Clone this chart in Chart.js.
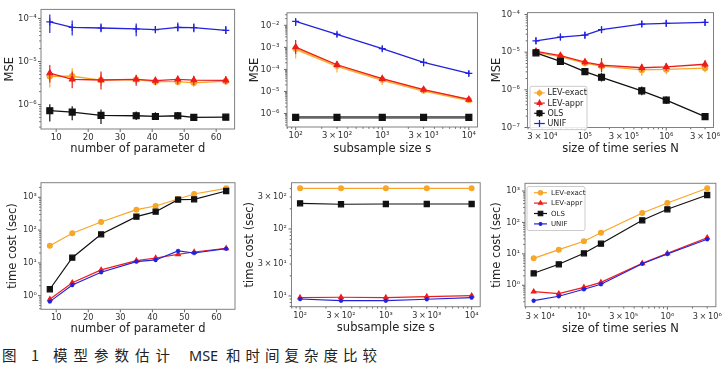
<!DOCTYPE html>
<html><head><meta charset="utf-8">
<script src="https://cdn.jsdelivr.net/npm/chart.js@4/dist/chart.umd.min.js"></script>
<style>
html,body{margin:0;padding:0;background:#fff;width:727px;height:379px;overflow:hidden;position:relative}
canvas{position:absolute}
.cap{position:absolute;top:348px;font-family:"Noto Sans CJK SC";font-size:14.5px;line-height:14px;color:#222;white-space:nowrap}
</style></head><body>
<canvas id="c1" width="240" height="160" style="left:0;top:0;width:240px;height:160px"></canvas>
<canvas id="c2" width="245" height="160" style="left:240px;top:0;width:245px;height:160px"></canvas>
<canvas id="c3" width="242" height="160" style="left:485px;top:0;width:242px;height:160px"></canvas>
<canvas id="c4" width="240" height="170" style="left:0;top:170px;width:240px;height:170px"></canvas>
<canvas id="c5" width="245" height="170" style="left:240px;top:170px;width:245px;height:170px"></canvas>
<canvas id="c6" width="242" height="170" style="left:485px;top:170px;width:242px;height:170px"></canvas>
<div class="cap" style="left:2px">图</div>
<div class="cap" style="left:31px">1</div>
<div class="cap" style="left:53px;letter-spacing:6px">模型参数估计</div>
<div class="cap" style="left:189px;font-family:'Noto Sans'">MSE</div>
<div class="cap" style="left:226px;letter-spacing:5px">和时间复杂度比较</div>
<script>
// ---------------- categories ----------------
const dVals = [8, 15, 24, 35, 41, 48, 53, 63];
const sVals = [100, 300, 1000, 3000, 10000];
const nVals = [25000, 50000, 100000, 160000, 500000, 1000000, 3000000];
const seriesNames = ['LEV-exact', 'LEV-appr', 'OLS', 'UNIF'];

// ---------------- MSE vs d ----------------
const mseD_exact   = [4.55e-6, 4.55e-6, 3.7e-6, 3.8e-6, 3.4e-6, 3.4e-6, 3.2e-6, 3.5e-6];
const mseD_exactLo = [2.5e-6, 3.2e-6, 2.7e-6, 3.0e-6, 2.8e-6, 2.8e-6, 2.6e-6, 2.9e-6];
const mseD_exactHi = [6.4e-6, 7.0e-6, 5.2e-6, 4.8e-6, 4.2e-6, 4.2e-6, 4.0e-6, 4.3e-6];
const mseD_appr    = [5.4e-6, 3.84e-6, 3.72e-6, 3.84e-6, 3.6e-6, 3.84e-6, 3.7e-6, 3.65e-6];
const mseD_apprLo  = [3.24e-6, 2.39e-6, 2.23e-6, 2.74e-6, 2.83e-6, 2.97e-6, 2.83e-6, 2.97e-6];
const mseD_apprHi  = [8.3e-6, 5.9e-6, 5.9e-6, 4.96e-6, 4.4e-6, 4.7e-6, 4.7e-6, 4.6e-6];
const mseD_ols     = [7.2e-7, 6.7e-7, 5.6e-7, 5.5e-7, 5.3e-7, 5.5e-7, 5.06e-7, 5.1e-7];
const mseD_olsLo   = [4.04e-7, 4.35e-7, 3.54e-7, 4.4e-7, 4.4e-7, 4.48e-7, 4.4e-7, 4.4e-7];
const mseD_olsHi   = [1.02e-6, 9.2e-7, 7.7e-7, 6.9e-7, 6.6e-7, 6.7e-7, 5.8e-7, 5.9e-7];
const mseD_unif    = [8.3e-5, 6.2e-5, 6.0e-5, 5.7e-5, 5.5e-5, 6.2e-5, 6.1e-5, 5.3e-5];
const mseD_unifLo  = [4.57e-5, 4.04e-5, 4.8e-5, 3.84e-5, 4.64e-5, 4.97e-5, 4.8e-5, 4.33e-5];
const mseD_unifHi  = [1.23e-4, 9.0e-5, 7.6e-5, 7.6e-5, 6.7e-5, 8.0e-5, 7.6e-5, 6.7e-5];

// ---------------- MSE vs s ----------------
const mseS_exact   = [8.7e-4, 1.48e-4, 3.4e-5, 1.1e-5, 4.1e-6];
const mseS_exactLo = [3.11e-4, 7.26e-5, 1.98e-5, 8.28e-6, 3.14e-6];
const mseS_exactHi = [1.33e-3, 2.11e-4, 4.48e-5, 1.44e-5, 5.46e-6];
const mseS_appr    = [1.03e-3, 1.63e-4, 3.8e-5, 1.22e-5, 4.36e-6];
const mseS_apprLo  = [5.05e-4, 1.18e-4, 2.75e-5, 8.85e-6, 3.36e-6];
const mseS_apprHi  = [2.16e-3, 2.39e-4, 5.2e-5, 1.69e-5, 5.83e-6];
const mseS_ols     = [6.65e-7, 6.65e-7, 6.65e-7, 6.65e-7, 6.65e-7];
const mseS_olsLo   = [5.5e-7, 5.5e-7, 5.5e-7, 5.5e-7, 5.5e-7];
const mseS_olsHi   = [8.0e-7, 8.0e-7, 8.0e-7, 8.0e-7, 8.0e-7];
const mseS_unif    = [1.5e-2, 3.9e-3, 8.7e-4, 2.1e-4, 6.6e-5];
const mseS_unifLo  = [9.25e-3, 2.98e-3, 6.75e-4, 1.38e-4, 5.2e-5];
const mseS_unifHi  = [1.93e-2, 4.83e-3, 1.13e-3, 3.11e-4, 8.5e-5];

// ---------------- MSE vs N ----------------
const mseN_exact   = [9.9e-6, 7.6e-6, 5.15e-6, 4.26e-6, 3.37e-6, 3.49e-6, 3.79e-6];
const mseN_exactLo = [8.6e-6, 6.4e-6, 4.2e-6, 3.19e-6, 2.38e-6, 2.61e-6, 2.92e-6];
const mseN_exactHi = [1.15e-5, 9.0e-6, 6.3e-6, 5.7e-6, 4.78e-6, 4.67e-6, 4.92e-6];
const mseN_appr    = [1.05e-5, 8.07e-6, 5.46e-6, 4.5e-6, 3.86e-6, 4.08e-6, 4.78e-6];
const mseN_apprLo  = [9.1e-6, 6.8e-6, 4.46e-6, 2.91e-6, 3.06e-6, 3.23e-6, 3.79e-6];
const mseN_apprHi  = [1.21e-5, 9.6e-6, 6.7e-6, 6.96e-6, 4.87e-6, 5.15e-6, 6.03e-6];
const mseN_ols     = [9.6e-6, 5.69e-6, 3.05e-6, 2.15e-6, 9.4e-7, 5.33e-7, 1.95e-7];
const mseN_olsLo   = [8.1e-6, 4.78e-6, 2.56e-6, 1.66e-6, 7.2e-7, 4.2e-7, 1.79e-7];
const mseN_olsHi   = [1.14e-5, 6.77e-6, 3.63e-6, 2.79e-6, 1.22e-6, 6.7e-7, 2.13e-7];
const mseN_unif    = [2.0e-5, 2.52e-5, 2.83e-5, 3.95e-5, 5.58e-5, 5.82e-5, 6.17e-5];
const mseN_unifLo  = [1.63e-5, 2.06e-5, 2.31e-5, 3.22e-5, 4.55e-5, 4.75e-5, 5.04e-5];
const mseN_unifHi  = [2.45e-5, 3.09e-5, 3.47e-5, 4.84e-5, 6.84e-5, 7.13e-5, 7.56e-5];

// ---------------- time cost ----------------
const timeD_exact = [33.4, 80, 177, 419, 543, 888, 1262, 1880];
const timeD_appr  = [0.78, 2.49, 6.1, 11.7, 14.1, 18.3, 21.5, 27.9];
const timeD_ols   = [1.57, 14.4, 74.5, 257, 364, 845, 869, 1556];
const timeD_unif  = [0.66, 2.12, 5.2, 10.9, 12.3, 23.1, 20.0, 27.1];

const timeS_exact = [405, 404, 405, 405, 405];
const timeS_appr  = [9.44, 9.57, 9.44, 9.77, 10.1];
const timeS_ols   = [242, 234, 236, 236, 236];
const timeS_unif  = [9.02, 8.51, 8.51, 8.93, 9.44];

const timeN_exact = [7.2, 13.6, 25.1, 47.2, 200, 416, 1219];
const timeN_appr  = [0.625, 0.54, 0.86, 1.24, 5.01, 10.4, 32.7];
const timeN_ols   = [2.41, 4.66, 10.4, 21.1, 117, 262, 747];
const timeN_unif  = [0.324, 0.447, 0.746, 1.08, 4.87, 9.9, 29.1];

// ---------------- tick labels ----------------
const dTickVals = [10, 20, 30, 40, 50, 60];
const dTickLabels = ['10', '20', '30', '40', '50', '60'];
const sTickVals = [100, 300, 1000, 3000, 10000];
const sTickLabels = ['10²', '3\u2009×\u200910²', '10³', '3\u2009×\u200910³', '10⁴'];
const nTickVals = [3e4, 1e5, 3e5, 1e6, 3e6];
const nTickLabels = ['3\u2009×\u200910⁴', '10⁵', '3\u2009×\u200910⁵', '10⁶', '3\u2009×\u200910⁶'];
const mseDTickVals = [1e-6, 1e-5, 1e-4];
const mseDTickLabels = ['10⁻⁶', '10⁻⁵', '10⁻⁴'];
const mseSTickVals = [1e-6, 1e-5, 1e-4, 1e-3, 1e-2];
const mseSTickLabels = ['10⁻⁶', '10⁻⁵', '10⁻⁴', '10⁻³', '10⁻²'];
const mseNTickVals = [1e-7, 1e-6, 1e-5, 1e-4];
const mseNTickLabels = ['10⁻⁷', '10⁻⁶', '10⁻⁵', '10⁻⁴'];
const timeTickVals = [1, 10, 100, 1000];
const timeTickLabels = ['10⁰', '10¹', '10²', '10³'];
const timeSTickVals = [10, 30, 100, 300];
const timeSTickLabels = ['10¹', '3\u2009×\u200910¹', '10²', '3\u2009×\u200910²'];

// ---------------- styling / helpers ----------------
const C_OR = '#f7a627', C_RED = '#ee1c1c', C_BLK = '#111111', C_BLU = '#2222dd';
const FONT = 'DejaVu Sans';

function logTicks(min, max) {
  const out = [];
  for (let e = Math.floor(Math.log10(min)); e <= Math.ceil(Math.log10(max)); e++) {
    for (let m = 1; m <= 9; m++) {
      const v = m * Math.pow(10, e);
      if (v >= min && v <= max) out.push({value: v, major: m === 1});
    }
  }
  return out;
}
function labeler(vals, labels) {
  return v => { for (let i = 0; i < vals.length; i++) if (Math.abs(v / vals[i] - 1) < 1e-6) return labels[i]; return ''; };
}
function axis(o) {
  const isLog = o.type === 'logarithmic';
  return {
    type: o.type, min: o.min, max: o.max, bounds: 'data',
    grid: {display: false, drawTicks: false}, border: {display: false},
    ticks: {autoSkip: false, maxRotation: 0, minRotation: 0, padding: o.tickPad,
      font: {family: FONT, size: o.tickSize}, color: '#333', callback: labeler(o.vals, o.labels)},
    title: {display: true, text: o.title, color: '#222', font: {family: FONT, size: 11.5},
      padding: o.isY ? {top: o.titlePad, bottom: 0} : {top: 0, bottom: o.titlePad}},
    afterBuildTicks: s => { s.ticks = isLog ? logTicks(o.min, o.max) : o.vals.map(v => ({value: v})); },
    afterFit: s => { if (o.isY) s.width = o.size; else s.height = o.size; }
  };
}
function ser(label, xs, ys, color, style, r, extra) {
  return Object.assign({
    label, data: xs.map((x, i) => ({x, y: ys[i]})),
    borderColor: color, backgroundColor: color, pointBackgroundColor: color, pointBorderColor: color,
    pointStyle: style, pointRadius: r, pointHoverRadius: r, pointBorderWidth: 1.2,
    borderWidth: 1.3, showLine: true, tension: 0, fill: false
  }, extra || {});
}

const framePlugin = {
  id: 'frameTicks',
  afterDraw(chart) {
    const {ctx, chartArea: a} = chart;
    ctx.save();
    ctx.strokeStyle = '#555'; ctx.lineWidth = 0.9;
    ['x', 'y'].forEach(id => {
      const s = chart.scales[id];
      s.ticks.forEach(t => {
        const p = s.getPixelForValue(t.value);
        const len = (s.type === 'logarithmic' && !t.major) ? 1.8 : 3;
        ctx.beginPath();
        if (id === 'x') { ctx.moveTo(p, a.bottom); ctx.lineTo(p, a.bottom + len); }
        else { ctx.moveTo(a.left, p); ctx.lineTo(a.left - len, p); }
        ctx.stroke();
      });
    });
    ctx.strokeStyle = '#808080'; ctx.lineWidth = 1;
    ctx.strokeRect(a.left, a.top, a.right - a.left, a.bottom - a.top);
    ctx.restore();
  }
};
const errPlugin = {
  id: 'errBars',
  beforeDatasetDraw(chart, args) {
    const ds = chart.data.datasets[args.index];
    if (!ds.errLo) return;
    const ys = chart.scales.y, ctx = chart.ctx;
    ctx.save();
    ctx.strokeStyle = ds.errColor || ds.borderColor; ctx.lineWidth = ds.errWidth || 1.2;
    args.meta.data.forEach((pt, i) => {
      ctx.beginPath();
      ctx.moveTo(pt.x, ys.getPixelForValue(ds.errLo[i]));
      ctx.lineTo(pt.x, ys.getPixelForValue(ds.errHi[i]));
      ctx.stroke();
    });
    ctx.restore();
  }
};
const legendPlugin = {
  id: 'boxLegend',
  afterDraw(chart, args, o) {
    if (!o || !o.show) return;
    const {ctx, chartArea: a} = chart;
    const x0 = a.left + o.x, y0 = a.top + o.y;
    ctx.save();
    ctx.fillStyle = 'rgba(255,255,255,0.85)'; ctx.strokeStyle = '#cccccc'; ctx.lineWidth = 1;
    ctx.beginPath();
    if (ctx.roundRect) ctx.roundRect(x0, y0, o.w, o.h, 2); else ctx.rect(x0, y0, o.w, o.h);
    ctx.fill(); ctx.stroke();
    ctx.font = o.fontSize + 'px "' + FONT + '"'; ctx.textBaseline = 'middle'; ctx.textAlign = 'left';
    chart.data.datasets.forEach((ds, i) => {
      const yy = y0 + o.row0 + i * o.rowH;
      const xm = x0 + (o.l0 + o.l1) / 2;
      ctx.strokeStyle = ds.borderColor; ctx.lineWidth = 1.2;
      ctx.beginPath(); ctx.moveTo(x0 + o.l0, yy); ctx.lineTo(x0 + o.l1, yy); ctx.stroke();
      if (o.err) { ctx.beginPath(); ctx.moveTo(xm, yy - o.err); ctx.lineTo(xm, yy + o.err); ctx.stroke(); }
      ctx.fillStyle = ds.pointBackgroundColor; ctx.strokeStyle = ds.pointBorderColor; ctx.lineWidth = 1.1;
      Chart.helpers.drawPoint(ctx, {pointStyle: ds.pointStyle, radius: ds.pointRadius * o.mk, borderWidth: 1.1, rotation: 0}, xm, yy);
      ctx.fillStyle = '#222';
      ctx.fillText(ds.label, x0 + o.tx, yy + 0.5);
    });
    ctx.restore();
  }
};

function makeChart(id, datasets, xo, yo, pad, legend) {
  return new Chart(document.getElementById(id), {
    type: 'scatter',
    data: {datasets},
    options: {
      responsive: false, animation: false, events: [],
      layout: {padding: {top: pad.top, right: pad.right, left: 0, bottom: 0}},
      scales: {x: axis(xo), y: axis(Object.assign({isY: true}, yo))},
      plugins: {legend: {display: false}, tooltip: {enabled: false}, boxLegend: legend || {show: false}}
    },
    plugins: [errPlugin, framePlugin, legendPlugin]
  });
}

// ---------- Panel 1: MSE vs d ----------
makeChart('c1', [
  ser(seriesNames[0], dVals, mseD_exact, C_OR, 'circle', 2.6, {errLo: mseD_exactLo, errHi: mseD_exactHi, order: 4}),
  ser(seriesNames[1], dVals, mseD_appr, C_RED, 'triangle', 3.2, {errLo: mseD_apprLo, errHi: mseD_apprHi, order: 3}),
  ser(seriesNames[2], dVals, mseD_ols, C_BLK, 'rect', 4.2, {errLo: mseD_olsLo, errHi: mseD_olsHi, order: 2}),
  ser(seriesNames[3], dVals, mseD_unif, C_BLU, 'cross', 3.5, {errLo: mseD_unifLo, errHi: mseD_unifHi, order: 1})
], {type: 'linear', min: 5.25, max: 65.75, vals: dTickVals, labels: dTickLabels, title: 'number of parameter d', tickPad: 3.6, tickSize: 8.5, titlePad: 4.1, size: 31},
   {type: 'logarithmic', min: Math.pow(10, -6.567), max: Math.pow(10, -3.79), vals: mseDTickVals, labels: mseDTickLabels, title: 'MSE', tickPad: 4.3, tickSize: 8.5, titlePad: 3.1, size: 41},
   {top: 4, right: 5});

// ---------- Panel 2: MSE vs s ----------
makeChart('c2', [
  ser(seriesNames[0], sVals, mseS_exact, '#f9b040', 'circle', 2.6, {errLo: mseS_exactLo, errHi: mseS_exactHi, order: 4, borderWidth: 2.6}),
  ser(seriesNames[1], sVals, mseS_appr, C_RED, 'triangle', 3.2, {errLo: mseS_apprLo, errHi: mseS_apprHi, order: 3}),
  ser(seriesNames[2], sVals, mseS_ols, '#666666', 'rect', 4.2, {errLo: mseS_olsLo, errHi: mseS_olsHi, order: 2, borderWidth: 2.8, pointBackgroundColor: C_BLK, pointBorderColor: C_BLK}),
  ser(seriesNames[3], sVals, mseS_unif, C_BLU, 'cross', 3.5, {errLo: mseS_unifLo, errHi: mseS_unifHi, order: 1})
], {type: 'logarithmic', min: Math.pow(10, 1.9), max: Math.pow(10, 4.1), vals: sTickVals, labels: sTickLabels, title: 'subsample size s', tickPad: 3.9, tickSize: 8.5, titlePad: 4.1, size: 33},
   {type: 'logarithmic', min: Math.pow(10, -6.611), max: Math.pow(10, -1.432), vals: mseSTickVals, labels: mseSTickLabels, title: 'MSE', tickPad: 7.7, tickSize: 8.5, titlePad: 8.1, size: 47},
   {top: 4, right: 7.5});

// ---------- Panel 3: MSE vs N ----------
makeChart('c3', [
  ser(seriesNames[0], nVals, mseN_exact, C_OR, 'circle', 2.6, {errLo: mseN_exactLo, errHi: mseN_exactHi, order: 4}),
  ser(seriesNames[1], nVals, mseN_appr, C_RED, 'triangle', 3.2, {errLo: mseN_apprLo, errHi: mseN_apprHi, order: 3}),
  ser(seriesNames[2], nVals, mseN_ols, C_BLK, 'rect', 4.2, {errLo: mseN_olsLo, errHi: mseN_olsHi, order: 2}),
  ser(seriesNames[3], nVals, mseN_unif, C_BLU, 'cross', 3.5, {errLo: mseN_unifLo, errHi: mseN_unifHi, order: 1})
], {type: 'logarithmic', min: Math.pow(10, 4.294), max: Math.pow(10, 6.581), vals: nTickVals, labels: nTickLabels, title: 'size of time series N', tickPad: 4, tickSize: 8.5, titlePad: 3.8, size: 32.5},
   {type: 'logarithmic', min: Math.pow(10, -7.0), max: Math.pow(10, -3.95), vals: mseNTickVals, labels: mseNTickLabels, title: 'MSE', tickPad: 7.5, tickSize: 8.5, titlePad: 4.8, size: 42.5},
   {top: 7, right: 13.5},
   {show: true, x: 2.5, y: 73.7, w: 57, h: 43.3, row0: 6.6, rowH: 10.2, l0: 4.2, l1: 14.8, tx: 17.5, fontSize: 8, mk: 0.85, err: 3.5});

// ---------- Panel 4: time vs d ----------
makeChart('c4', [
  ser(seriesNames[0], dVals, timeD_exact, C_OR, 'circle', 2.4, {order: 4, borderWidth: 1.2}),
  ser(seriesNames[1], dVals, timeD_appr, C_RED, 'triangle', 2.6, {order: 3, borderWidth: 1.2}),
  ser(seriesNames[2], dVals, timeD_ols, C_BLK, 'rect', 3.6, {order: 2, borderWidth: 1.2}),
  ser(seriesNames[3], dVals, timeD_unif, C_BLU, 'star', 2.2, {order: 1, borderWidth: 1.2})
], {type: 'linear', min: 5.25, max: 65.75, vals: dTickVals, labels: dTickLabels, title: 'number of parameter d', tickPad: 3.9, tickSize: 8.2, titlePad: 4.1, size: 30.7},
   {type: 'logarithmic', min: Math.pow(10, -0.415), max: Math.pow(10, 3.445), vals: timeTickVals, labels: timeTickLabels, title: 'time cost (sec)', tickPad: 4.3, tickSize: 8.2, titlePad: 5.8, size: 41},
   {top: 12.7, right: 5});

// ---------- Panel 5: time vs s ----------
makeChart('c5', [
  ser(seriesNames[0], sVals, timeS_exact, C_OR, 'circle', 2.4, {order: 4, borderWidth: 1.2}),
  ser(seriesNames[1], sVals, timeS_appr, C_RED, 'triangle', 2.6, {order: 3, borderWidth: 1.2}),
  ser(seriesNames[2], sVals, timeS_ols, C_BLK, 'rect', 3.6, {order: 2, borderWidth: 1.2}),
  ser(seriesNames[3], sVals, timeS_unif, C_BLU, 'star', 2.2, {order: 1, borderWidth: 1.2})
], {type: 'logarithmic', min: Math.pow(10, 1.9), max: Math.pow(10, 4.1), vals: sTickVals, labels: sTickLabels, title: 'subsample size s', tickPad: 4.2, tickSize: 8.2, titlePad: 4.8, size: 33.3},
   {type: 'logarithmic', min: Math.pow(10, 0.84), max: Math.pow(10, 2.691), vals: timeSTickVals, labels: timeSTickLabels, title: 'time cost (sec)', tickPad: 4.8, tickSize: 8.2, titlePad: 3.1, size: 51.5},
   {top: 12.7, right: 3.5});

// ---------- Panel 6: time vs N ----------
makeChart('c6', [
  ser(seriesNames[0], nVals, timeN_exact, C_OR, 'circle', 2.4, {order: 4, borderWidth: 1.2}),
  ser(seriesNames[1], nVals, timeN_appr, C_RED, 'triangle', 2.6, {order: 3, borderWidth: 1.2}),
  ser(seriesNames[2], nVals, timeN_ols, C_BLK, 'rect', 3.6, {order: 2, borderWidth: 1.2}),
  ser(seriesNames[3], nVals, timeN_unif, C_BLU, 'star', 2.2, {order: 1, borderWidth: 1.2})
], {type: 'logarithmic', min: Math.pow(10, 4.294), max: Math.pow(10, 6.581), vals: nTickVals, labels: nTickLabels, title: 'size of time series N', tickPad: 4.9, tickSize: 8.2, titlePad: 3.8, size: 33.3},
   {type: 'logarithmic', min: Math.pow(10, -0.681), max: Math.pow(10, 3.245), vals: timeTickVals, labels: timeTickLabels, title: 'time cost (sec)', tickPad: 5, tickSize: 8.2, titlePad: 4.8, size: 40},
   {top: 13.3, right: 8.5},
   {show: true, x: 2, y: 3.2, w: 58, h: 44, row0: 6.2, rowH: 10.4, l0: 7, l1: 20, tx: 24, fontSize: 7, mk: 0.9, err: 0});
</script>
</body></html>
